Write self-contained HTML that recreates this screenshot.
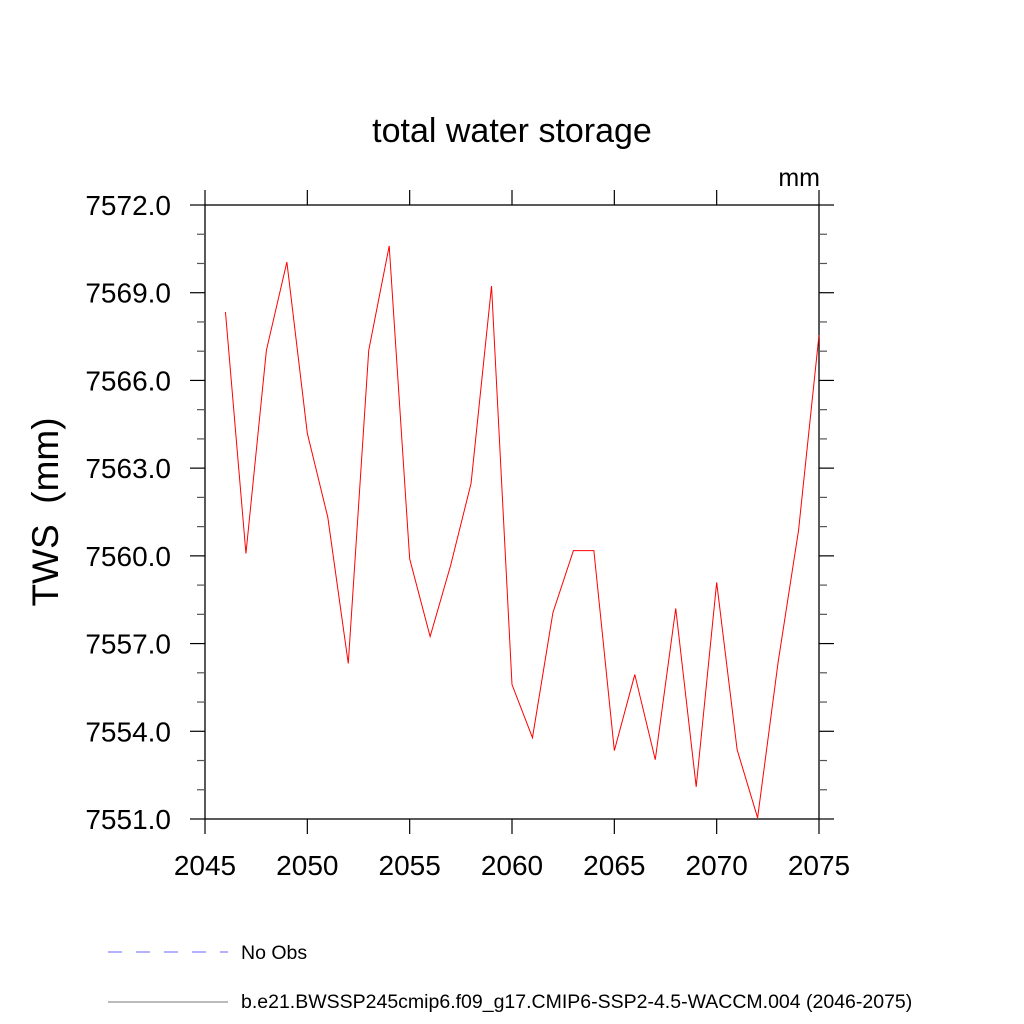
<!DOCTYPE html>
<html><head><meta charset="utf-8"><style>body{margin:0;background:#fff}svg{display:block}text{font-family:"Liberation Sans",sans-serif}</style></head>
<body>
<svg id="c" width="1024" height="1024">
<text x="512" y="142" font-size="34" text-anchor="middle">total water storage</text>
<text x="820" y="186" font-size="25" text-anchor="end">mm</text>
<text transform="translate(58,512) rotate(-90)" font-size="37" text-anchor="middle" style="white-space:pre" xml:space="preserve">TWS  (mm)</text>
<g id="ax"></g>
<g>
<line x1="108" y1="952" x2="228" y2="952" stroke="#66f" stroke-width="1" stroke-dasharray="14,14"/>
<text x="241" y="959" font-size="19.5">No Obs</text>
<line x1="108" y1="1002" x2="228" y2="1002" stroke="#777" stroke-width="1"/>
<text x="241" y="1008" font-size="19.5">b.e21.BWSSP245cmip6.f09_g17.CMIP6-SSP2-4.5-WACCM.004 (2046-2075)</text>
</g>
</svg>
<script>
const years=[2046,2047,2048,2049,2050,2051,2052,2053,2054,2055,2056,2057,2058,2059,2060,2061,2062,2063,2064,2065,2066,2067,2068,2069,2070,2071,2072,2073,2074,2075];
const tws=[7568.34,7560.08,7567.03,7570.05,7564.19,7561.32,7556.32,7567.03,7570.6,7559.9,7557.24,7559.67,7562.48,7569.23,7555.6,7553.78,7558.06,7560.18,7560.18,7553.34,7555.94,7553.03,7558.2,7552.1,7559.09,7553.37,7551.04,7556.35,7560.87,7567.55];
const xTicks=[2045,2050,2055,2060,2065,2070,2075];
const yTicks=[7551,7554,7557,7560,7563,7566,7569,7572];
const L=205,R=819,T=205,B=819;
const X=v=>L+(v-2045)/30*(R-L);
const Y=v=>B-(v-7551)/21*(B-T);
const ns='http://www.w3.org/2000/svg';
const g=document.getElementById('ax');
function mk(t,a){const e=document.createElementNS(ns,t);for(const k in a)e.setAttribute(k,a[k]);g.appendChild(e);return e;}
const f=mk('rect',{x:L,y:T,width:R-L,height:B-T,fill:'none',stroke:'#000','stroke-width':1.3});


xTicks.forEach(v=>{const x=X(v);
 mk('line',{x1:x,y1:B,x2:x,y2:B+15,stroke:'#000','stroke-width':1.2});
 mk('line',{x1:x,y1:T,x2:x,y2:T-15,stroke:'#000','stroke-width':1.2});
 const t=mk('text',{x:x,y:B+56,'font-size':28,'text-anchor':'middle'});t.textContent=v;
 
 
});
for(let v=7551;v<=7572;v++){const y=Y(v);const maj=(v-7551)%3===0;const len=maj?15:8;
 mk('line',{x1:L-len,y1:y,x2:L,y2:y,stroke:maj?'#000':'#555','stroke-width':1.2});
 mk('line',{x1:R,y1:y,x2:R+len,y2:y,stroke:maj?'#000':'#555','stroke-width':1.2});
}
yTicks.forEach(v=>{const t=mk('text',{x:L-34,y:Y(v)+10,'font-size':28,'text-anchor':'end'});t.textContent=v.toFixed(1);
 
 
});
const p=mk('polyline',{points:years.map((y,i)=>X(y)+','+Y(tws[i])).join(' '),fill:'none',stroke:'#f00','stroke-width':1});


</script>
</body></html>
